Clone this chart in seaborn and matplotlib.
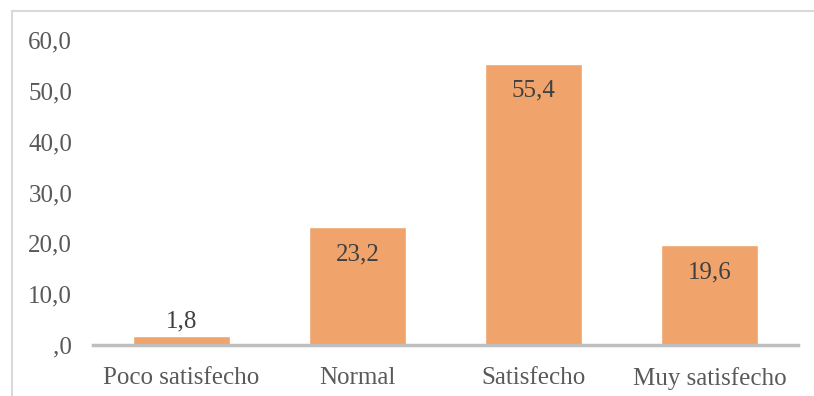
import matplotlib
matplotlib.use("Agg")
import matplotlib.pyplot as plt
from matplotlib.lines import Line2D
import seaborn as sns
import pandas as pd

categories = ["Poco satisfecho", "Normal", "Satisfecho", "Muy satisfecho"]
values = [1.8, 23.2, 55.4, 19.6]
y_ticks = [0, 10, 20, 30, 40, 50, 60]

sns.set_theme(style="white")
plt.rcParams["font.family"] = ["Liberation Serif", "DejaVu Serif"]

df = pd.DataFrame({"categoria": categories, "valor": values})

W, H = 814, 396
fig = plt.figure(figsize=(W / 100, H / 100), dpi=100)
ax = fig.add_axes([93 / W, 1 - 345 / H, (798 - 93) / W, (345 - 40.2) / H])

sns.barplot(data=df, x="categoria", y="valor", color="#F0A46C", saturation=1,
            width=0.55, ax=ax)

ax.set_ylim(0, 60)
ax.set_xlim(-0.5, len(categories) - 0.5)
ax.set_yticks(y_ticks)


def fmt(v):
    s = f"{v:.1f}".replace(".", ",")
    return s[1:] if s.startswith("0") else s


ax.set_yticklabels([fmt(v) for v in y_ticks])
ax.set_xlabel("")
ax.set_ylabel("")
ax.tick_params(axis="y", length=0, pad=15, labelsize=18, labelcolor="#595959")
ax.tick_params(axis="x", length=0, pad=15.5, labelsize=18, labelcolor="#595959")

for s in ["top", "right", "left"]:
    ax.spines[s].set_visible(False)
ax.spines["bottom"].set_color("#BFBFBF")
ax.spines["bottom"].set_linewidth(2.5)

# data labels: inside the end of tall bars, above the short one
for i, v in enumerate(values):
    label = f"{v:.1f}".replace(".", ",")
    dy = 14 if v < 5 else -27
    ax.annotate(label, (i, v), xytext=(0, dy), textcoords="offset pixels",
                ha="center", va="center", fontsize=18, color="#404040")

# light chart border
fig.add_artist(Line2D([12 / W, 12 / W], [0, 1 - 11 / H], transform=fig.transFigure,
                      color="#D9D9D9", linewidth=1.5))
fig.add_artist(Line2D([12 / W, 1], [1 - 11 / H, 1 - 11 / H], transform=fig.transFigure,
                      color="#D9D9D9", linewidth=1.5))

fig.savefig("out.png", dpi=100)
